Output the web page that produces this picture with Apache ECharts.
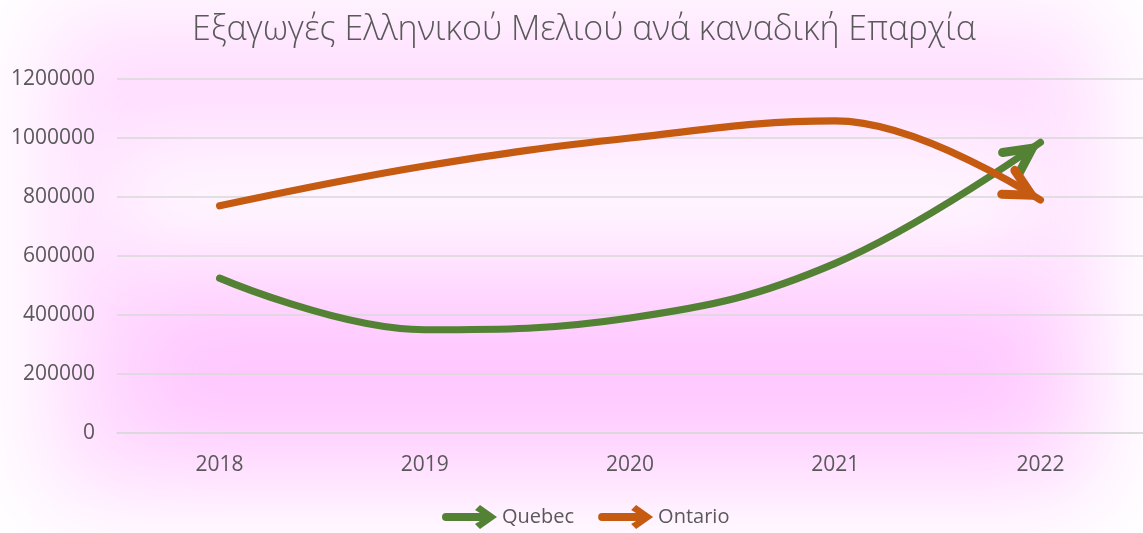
<!DOCTYPE html>
<html>
<head>
<meta charset="utf-8">
<script src="https://cdn.jsdelivr.net/npm/echarts@6/dist/echarts.min.js"></script>
<style>
html,body{margin:0;padding:0;background:#fff;}
#chart{width:1143px;height:533px;}
</style>
</head>
<body>
<div id="chart"></div>
<script>
const titleText = 'Εξαγωγές Ελληνικού Μελιού ανά καναδική Επαρχία';
const categories = ['2018', '2019', '2020', '2021', '2022'];
const seriesNames = ['Quebec', 'Ontario'];
const quebec = [525000, 350000, 390000, 575000, 985000];
const ontario = [770000, 905000, 1000000, 1058000, 790000];
const yTicks = [0, 200000, 400000, 600000, 800000, 1000000, 1200000];

const allSeries = [quebec, ontario];
const colors = ['#548235', '#C55A11'];
const FONT = '"Open Sans", "Noto Sans", sans-serif';
const TXT = '#595959';
const SMOOTH = 0.4;
const LINE_W = 7.2;
const ARM_LEN = 30, ARM_ANG = 27 * Math.PI / 180, ARM_W = 9;

const LEG_ICON = 'path://M4 8 L46 8 L46 16 L4 16 Q0 16 0 12 Q0 8 4 8 Z M55 12 L38 24 L33 19 L44.5 12 L33 5 L38 0 Z';

function glow(x, y, w, h, color, blur) {
  return {
    type: 'rect', silent: true, z: -10,
    shape: { x: x - 4000, y: y, width: w, height: h },
    style: { fill: '#000', shadowColor: color, shadowBlur: blur, shadowOffsetX: 4000, shadowOffsetY: 0 }
  };
}

// open arrowhead at the end of a smoothed line, following ECharts' smooth end tangent
function arrowItem(params, api) {
  const s = api.value(2);
  const vals = allSeries[s];
  const n = vals.length;
  const a = api.coord([n - 3, vals[n - 3]]);
  const b = api.coord([n - 2, vals[n - 2]]);
  const c = api.coord([n - 1, vals[n - 1]]);
  const vx = c[0] - a[0], vy = c[1] - a[1];
  const lp = Math.hypot(b[0] - a[0], b[1] - a[1]);
  const ln = Math.hypot(c[0] - b[0], c[1] - b[1]);
  const r = ln / (lp + ln);
  const cp = [b[0] + vx * SMOOTH * r, b[1] + vy * SMOOTH * r];
  let ux = c[0] - cp[0], uy = c[1] - cp[1];
  const len = Math.hypot(ux, uy); ux /= len; uy /= len;
  const miter = (ARM_W / 2) / Math.sin(ARM_ANG);
  const T = [c[0] - ux * miter, c[1] - uy * miter];
  const arm = sign => {
    const ang = Math.atan2(-uy, -ux) + sign * ARM_ANG;
    return [T[0] + ARM_LEN * Math.cos(ang), T[1] + ARM_LEN * Math.sin(ang)];
  };
  return {
    type: 'polyline', silent: true,
    shape: { points: [arm(1), T, arm(-1)] },
    style: { stroke: colors[s], lineWidth: ARM_W, lineCap: 'round', lineJoin: 'miter', miterLimit: 10, fill: null }
  };
}

function lineSeries(vals, idx) {
  return {
    name: seriesNames[idx], type: 'line', smooth: SMOOTH,
    data: vals, showSymbol: false, symbol: 'none',
    color: colors[idx],
    lineStyle: { width: LINE_W, color: colors[idx], cap: 'round' },
    itemStyle: { color: colors[idx] },
    emphasis: { disabled: true }, silent: true, z: 3 + idx
  };
}

function arrowSeries(vals, idx) {
  const n = vals.length;
  return {
    name: seriesNames[idx] + ' arrow', type: 'custom', coordinateSystem: 'cartesian2d',
    data: [[n - 1, vals[n - 1], idx]], encode: { x: 0, y: 1 },
    renderItem: arrowItem, clip: false, silent: true, z: 3 + idx
  };
}

const chart = echarts.init(document.getElementById('chart'), null, { renderer: 'canvas' });

chart.setOption({
  animation: false,
  backgroundColor: '#ffffff',
  graphic: { elements: [
    glow(45, 15, 1055, 485, 'rgb(255,222,255)', 90),
    glow(110, 155, 930, 80, 'rgba(255,255,255,1)', 90),
    glow(140, 315, 900, 110, 'rgb(255,196,255)', 90)
  ] },
  title: {
    text: titleText, left: 579, top: 8, textAlign: 'center',
    textStyle: { fontFamily: FONT, fontSize: 34, fontWeight: 300, color: TXT }
  },
  legend: {
    left: 437, top: 500, itemWidth: 55, itemHeight: 24, itemGap: 24,
    textStyle: { fontFamily: FONT, fontSize: 20, color: TXT },
    data: seriesNames.map((n, i) => ({ name: n, icon: LEG_ICON, itemStyle: { color: colors[i] } })),
    selectedMode: false
  },
  grid: { left: 117, right: -3, top: 79, bottom: 100, containLabel: false },
  xAxis: {
    type: 'category', data: categories, boundaryGap: true,
    axisLine: { show: true, lineStyle: { color: '#D9D9D9', width: 1.5 } },
    axisTick: { show: false },
    axisLabel: { margin: 22, fontFamily: FONT, fontSize: 21, color: TXT }
  },
  yAxis: {
    type: 'value', min: yTicks[0], max: yTicks[yTicks.length - 1], interval: yTicks[1] - yTicks[0],
    axisLine: { show: false }, axisTick: { show: false },
    splitLine: { lineStyle: { color: '#D9D9D9', width: 1.5 } },
    axisLabel: { margin: 22, fontFamily: FONT, fontSize: 21, color: TXT, formatter: v => String(v) }
  },
  series: [
    lineSeries(quebec, 0), lineSeries(ontario, 1),
    arrowSeries(quebec, 0), arrowSeries(ontario, 1)
  ]
});
</script>
</body>
</html>
